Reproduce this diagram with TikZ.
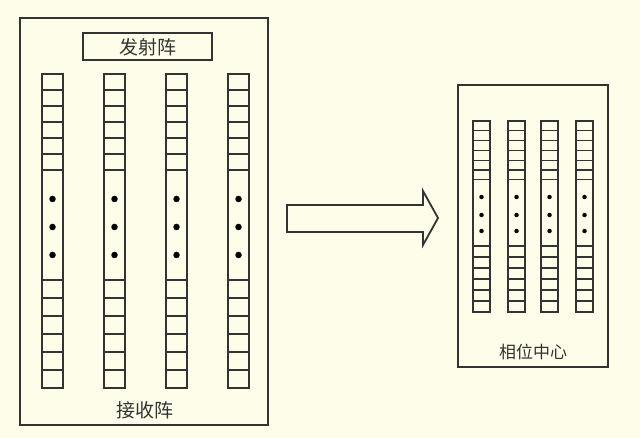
\documentclass[tikz,border=0pt]{standalone}
\usepackage{fontspec}
\newfontfamily\cjk{Noto Sans CJK SC}
\definecolor{paper}{HTML}{FEFDE9}
\definecolor{ink}{HTML}{333333}
\begin{document}
\begin{tikzpicture}
    [
        x=1pt,y=-1pt,
        frame/.style={draw=ink, line width=1.7pt},
        cell/.style={draw=ink, line width=1.5pt},
        dot/.style={fill=black, circle, inner sep=0pt},
        label/.style={font=\cjk, text=ink, inner sep=0pt},
    ]

    \fill[paper] (0,0) rectangle (640,438);
    \useasboundingbox (0,0) rectangle (640,438);

    % left panel
    \draw[frame] (20,18) rectangle (268,425);
    \draw[frame] (83,33) rectangle (212,60);
    \node (tx) at (147.5,47) [label, font=\cjk\fontsize{19}{19}\selectfont] {发射阵};
    \node (rx) at (145,410) [label, font=\cjk\fontsize{19}{19}\selectfont] {接收阵};

    \foreach \x in {42,104,166,228} {
        \draw[cell] (\x,74) rectangle ++(21,314);
        \foreach \k in {1,...,6} \draw[cell] (\x,74+16*\k) -- ++(21,0);
        \foreach \k in {0,...,5} \draw[cell] (\x,280+18*\k) -- ++(21,0);
        \foreach \y in {199,227,255} \node[dot, minimum size=6.5pt] at (\x+10.5,\y) {};
    }

    % arrow
    \draw[frame, line width=1.8pt] (287,205) -- (423,205) -- (423,191) -- (438,218)
        -- (423,245) -- (423,232) -- (287,232) -- cycle;

    % right panel
    \draw[frame] (458,85) rectangle (608,367);
    \node (pc) at (533,352) [label, font=\cjk\fontsize{17}{17}\selectfont] {相位中心};

    \foreach \x in {473,508,541,576} {
        \draw[cell, line width=1.3pt] (\x,121) rectangle ++(17,191);
        \foreach \k in {1,...,6} \draw[cell, line width=1.3pt] (\x,121+9.8*\k) -- ++(17,0);
        \foreach \k in {0,...,5} \draw[cell, line width=1.3pt] (\x,246+11*\k) -- ++(17,0);
        \foreach \y in {197,215,231} \node[dot, minimum size=4.5pt] at (\x+8.5,\y) {};
    }

\end{tikzpicture}
\end{document}
